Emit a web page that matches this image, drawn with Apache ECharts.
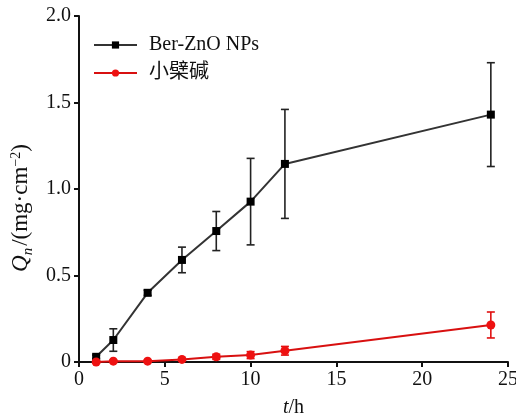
<!DOCTYPE html>
<html>
<head>
    <meta charset="utf-8">
    <title>Qn release</title>
    <script src="https://cdn.jsdelivr.net/npm/echarts@6/dist/echarts.min.js"></script>
    <style>
        html, body { margin: 0; padding: 0; background: #fff; }
    </style>
</head>
<body>
    <div id="main" style="width: 516px; height: 415px;"></div>
    <script type="text/javascript">
        var timeList = [1, 2, 4, 6, 8, 10, 12, 24];
        var berValues = [0.03, 0.127, 0.40, 0.59, 0.757, 0.927, 1.145, 1.43];
        var berErrors = [0.01, 0.065, 0.015, 0.074, 0.113, 0.25, 0.315, 0.30];
        var xbjValues = [0.0, 0.005, 0.005, 0.015, 0.03, 0.04, 0.065, 0.214];
        var xbjErrors = [0.004, 0.004, 0.004, 0.006, 0.015, 0.02, 0.025, 0.075];
        var xTicks = [0, 5, 10, 15, 20, 25];
        var yTicks = [0, 0.5, 1.0, 1.5, 2.0];
        var seriesNames = ['Ber-ZnO NPs', '小檗碱'];

        var serif = "'Liberation Serif', 'Times New Roman', 'Noto Sans CJK SC', serif";

        function toPoints(values) {
            var list = [];
            for (var i = 0; i < timeList.length; i++) {
                list.push([timeList[i], values[i]]);
            }
            return list;
        }
        function toBars(values, errors) {
            var list = [];
            for (var i = 0; i < timeList.length; i++) {
                list.push([timeList[i], values[i] - errors[i], values[i] + errors[i]]);
            }
            return list;
        }

        // vertical error bar with caps
        function errorBar(color) {
            return function (params, api) {
                var x = api.value(0);
                var lo = api.coord([x, api.value(1)]);
                var hi = api.coord([x, api.value(2)]);
                var w = 4;
                var style = { stroke: color, lineWidth: 1.6 };
                return {
                    type: 'group',
                    children: [
                        { type: 'line', shape: { x1: lo[0], y1: lo[1], x2: hi[0], y2: hi[1] }, style: style },
                        { type: 'line', shape: { x1: hi[0] - w, y1: hi[1], x2: hi[0] + w, y2: hi[1] }, style: style },
                        { type: 'line', shape: { x1: lo[0] - w, y1: lo[1], x2: lo[0] + w, y2: lo[1] }, style: style }
                    ]
                };
            };
        }

        var myChart = echarts.init(document.getElementById('main'));

        var option = {
            animation: false,
            backgroundColor: '#fff',
            grid: { left: 79, right: 8, top: 16, bottom: 53, containLabel: false, outerBoundsMode: 'none' },
            legend: {
                data: seriesNames,
                orient: 'vertical',
                left: 88,
                top: 30,
                itemWidth: 43,
                itemHeight: 9,
                itemGap: 8,
                textStyle: { fontFamily: serif, fontSize: 20, color: '#111', padding: [0, 0, 0, 7] }
            },
            xAxis: {
                type: 'value',
                min: xTicks[0],
                max: xTicks[xTicks.length - 1],
                interval: 5,
                name: '{i|t}{r|/h}',
                nameLocation: 'middle',
                nameGap: 36,
                nameTextStyle: {
                    rich: {
                        i: { fontFamily: serif, fontStyle: 'italic', fontSize: 20, color: '#111' },
                        r: { fontFamily: serif, fontSize: 20, color: '#111' }
                    }
                },
                splitLine: { show: false },
                axisLine: { lineStyle: { color: '#111', width: 2 } },
                axisTick: { length: 5, lineStyle: { color: '#111', width: 2 } },
                axisLabel: { fontFamily: serif, fontSize: 20, color: '#111', margin: 8 }
            },
            yAxis: {
                type: 'value',
                min: yTicks[0],
                max: yTicks[yTicks.length - 1],
                interval: 0.5,
                name: '{q|Q}{n|n}{t|/(mg·cm}{s|−2}{t|)}',
                nameLocation: 'middle',
                nameGap: 43,
                nameRotate: 90,
                nameTextStyle: {
                    padding: [0, 38, 0, 0],
                    rich: {
                        q: { fontFamily: serif, fontStyle: 'italic', fontSize: 23, color: '#111', verticalAlign: 'bottom' },
                        n: { fontFamily: serif, fontStyle: 'italic', fontSize: 15, color: '#111', verticalAlign: 'bottom', padding: [0, 2, -3, 0] },
                        t: { fontFamily: serif, fontSize: 23, color: '#111', verticalAlign: 'bottom' },
                        s: { fontFamily: serif, fontSize: 14, color: '#111', verticalAlign: 'top' }
                    }
                },
                splitLine: { show: false },
                axisLine: { show: true, lineStyle: { color: '#111', width: 2 } },
                axisTick: { show: true, length: 5, lineStyle: { color: '#111', width: 2 } },
                axisLabel: {
                    fontFamily: serif, fontSize: 20, color: '#111', margin: 8,
                    formatter: function (v) { return v === 0 ? '0' : v.toFixed(1); }
                }
            },
            series: [
                {
                    name: 'berErr',
                    type: 'custom',
                    renderItem: errorBar('#222'),
                    data: toBars(berValues, berErrors),
                    encode: { x: 0, y: [1, 2] },
                    z: 1,
                    silent: true
                },
                {
                    name: 'xbjErr',
                    type: 'custom',
                    renderItem: errorBar('#e01010'),
                    data: toBars(xbjValues, xbjErrors),
                    encode: { x: 0, y: [1, 2] },
                    z: 1,
                    silent: true
                },
                {
                    name: seriesNames[0],
                    type: 'line',
                    data: toPoints(berValues),
                    symbol: 'rect',
                    symbolSize: 8,
                    lineStyle: { color: '#333', width: 2 },
                    itemStyle: { color: '#000' },
                    z: 3
                },
                {
                    name: seriesNames[1],
                    type: 'line',
                    data: toPoints(xbjValues),
                    symbol: 'circle',
                    symbolSize: 9,
                    lineStyle: { color: '#d81010', width: 2 },
                    itemStyle: { color: '#ee1111' },
                    z: 3
                }
            ]
        };

        myChart.setOption(option);
    </script>
</body>
</html>
